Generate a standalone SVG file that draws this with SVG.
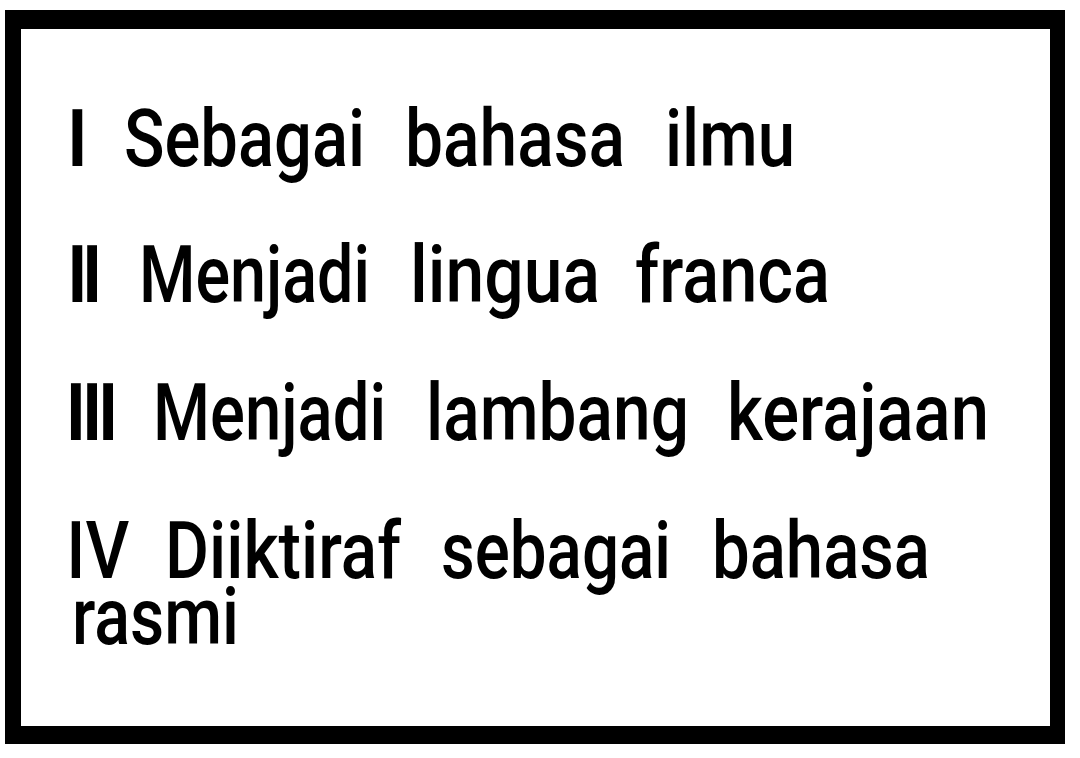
<svg xmlns="http://www.w3.org/2000/svg" width="1080" height="758" viewBox="0 0 1080 758">
<style>
.t{font-family:Roboto,"Liberation Sans",sans-serif;font-size:80px;font-weight:500;fill:#000}
</style>
<rect x="0" y="0" width="1080" height="758" fill="#fff"/>
<path d="M5 10H1065V744H5Z M21 29V726H1050V29Z" fill="#000" fill-rule="evenodd"/>
<g id="line1">
<text class="t" x="66" y="166">I</text>
<text class="t" x="124" y="166" textLength="241" lengthAdjust="spacingAndGlyphs">Sebagai</text>
<text class="t" x="405" y="166" textLength="220" lengthAdjust="spacingAndGlyphs">bahasa</text>
<text class="t" x="665" y="166" textLength="130" lengthAdjust="spacingAndGlyphs">ilmu</text>
</g>
<g id="line2">
<text class="t" x="66" y="302" letter-spacing="-7.8">II</text>
<text class="t" x="139" y="302" textLength="231" lengthAdjust="spacingAndGlyphs">Menjadi</text>
<text class="t" x="410" y="302" textLength="190" lengthAdjust="spacingAndGlyphs">lingua</text>
<text class="t" x="635" y="302" textLength="195" lengthAdjust="spacingAndGlyphs">franca</text>
</g>
<g id="line3">
<text class="t" x="64.5" y="440" letter-spacing="-6.5">III</text>
<text class="t" x="153" y="440" textLength="233" lengthAdjust="spacingAndGlyphs">Menjadi</text>
<text class="t" x="426" y="440" textLength="263" lengthAdjust="spacingAndGlyphs">lambang</text>
<text class="t" x="727" y="440" textLength="262" lengthAdjust="spacingAndGlyphs">kerajaan</text>
</g>
<g id="line4">
<text class="t" x="66.2" y="578" textLength="63" lengthAdjust="spacingAndGlyphs">IV</text>
<text class="t" x="165" y="578" textLength="236" lengthAdjust="spacingAndGlyphs">Diiktiraf</text>
<text class="t" x="441" y="578" textLength="230" lengthAdjust="spacingAndGlyphs">sebagai</text>
<text class="t" x="712" y="578" textLength="218" lengthAdjust="spacingAndGlyphs">bahasa</text>
<text class="t" x="72" y="644" textLength="167" lengthAdjust="spacingAndGlyphs">rasmi</text>
</g>
</svg>
